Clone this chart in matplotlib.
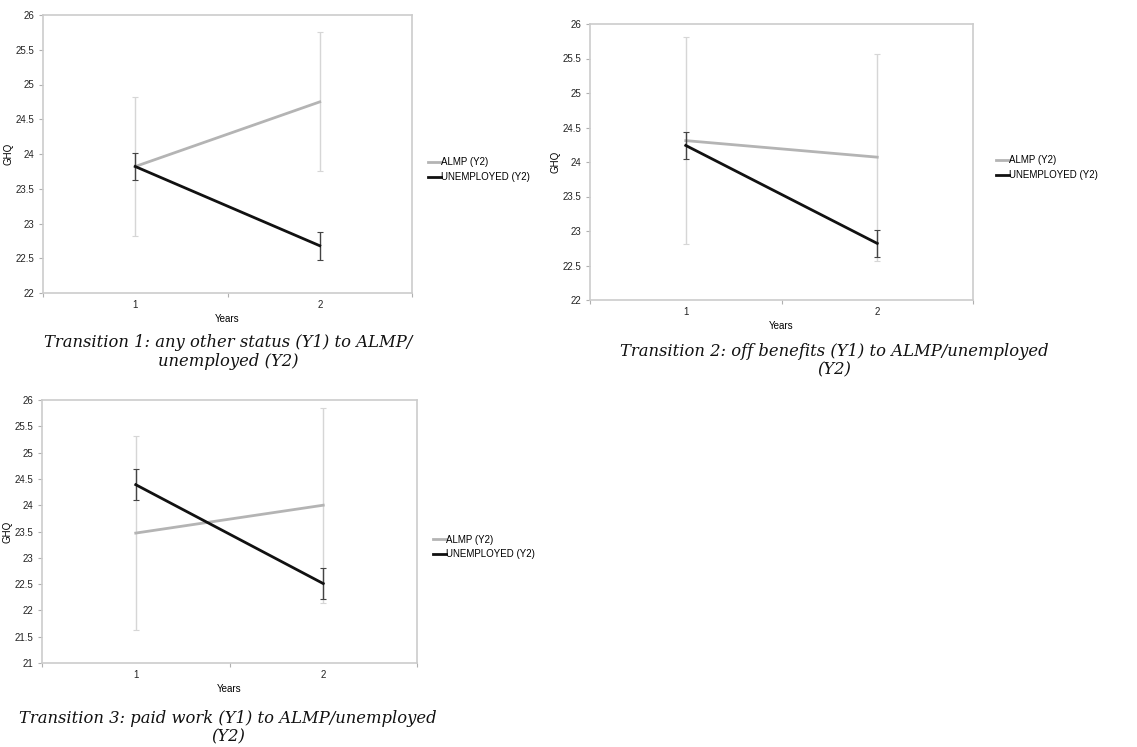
import numpy as np
import matplotlib
matplotlib.use("Agg")
import matplotlib.pyplot as plt

# data
years = [1, 2]
series = ["ALMP (Y2)", "UNEMPLOYED (Y2)"]

almp_1 = [23.82, 24.75]
almp_1_err = [1.0, 1.0]
unemp_1 = [23.82, 22.68]
unemp_1_err = [0.2, 0.2]

almp_2 = [24.31, 24.07]
almp_2_err = [1.5, 1.5]
unemp_2 = [24.24, 22.82]
unemp_2_err = [0.2, 0.2]

almp_3 = [23.47, 24.0]
almp_3_err = [1.85, 1.85]
unemp_3 = [24.39, 22.51]
unemp_3_err = [0.3, 0.3]

captions = [
    "Transition 1: any other status (Y1) to ALMP/\nunemployed (Y2)",
    "Transition 2: off benefits (Y1) to ALMP/unemployed\n(Y2)",
    "Transition 3: paid work (Y1) to ALMP/unemployed\n(Y2)",
]

plt.rcParams['font.family'] = ['Liberation Sans', 'DejaVu Sans']

W, H = 1137, 747
fig = plt.figure(figsize=(W / 100, H / 100), dpi=100)


def px_axes(l, t, r, b):
    return fig.add_axes([l / W, 1 - b / H, (r - l) / W, (b - t) / H])


def draw(ax, almp, almp_err, unemp, unemp_err, ylim, leg_xy, cap_xy, caption):
    ax.errorbar(years, almp, yerr=almp_err, color='#b4b4b4', lw=2,
                ecolor='#d6d6d6', elinewidth=1, capsize=2.5, capthick=0.8,
                label=series[0], zorder=2)
    ax.errorbar(years, unemp, yerr=unemp_err, color='#111111', lw=2,
                ecolor='#444444', elinewidth=1, capsize=2.5, capthick=0.8,
                label=series[1], zorder=3)
    ax.set_xlim(0.5, 2.5)
    ax.set_ylim(*ylim)
    yt = np.arange(ylim[0], ylim[1] + 0.01, 0.5)
    ax.set_yticks(yt)
    ax.set_yticklabels(['%g' % v for v in yt])
    ax.set_xticks([0.5, 1.5, 2.5])
    ax.set_xticklabels([])
    ax.set_xticks(years, minor=True)
    ax.set_xticklabels(['1', '2'], minor=True)
    ax.tick_params(axis='both', which='major', length=3, color='#b0b0b0', pad=3)
    ax.tick_params(axis='x', which='minor', length=0, pad=5)
    ax.tick_params(axis='both', which='both', labelsize=7, labelcolor='#222222')
    for s in ax.spines.values():
        s.set_color('#cccccc')
        s.set_linewidth(1.2)
    ax.set_xlabel('Years', fontsize=7, labelpad=3)
    ax.set_ylabel('GHQ', fontsize=7, labelpad=2)
    handles, labels = ax.get_legend_handles_labels()
    handles = [h[0] for h in handles]
    fig.legend(handles, labels, loc='center left',
               bbox_to_anchor=(leg_xy[0] / W, 1 - leg_xy[1] / H),
               frameon=False, fontsize=7, handlelength=1.3,
               handletextpad=0.1, labelspacing=0.5, borderpad=0)
    fig.text(cap_xy[0] / W, 1 - cap_xy[1] / H, caption, ha='center', va='center',
             fontsize=11.8, family='DejaVu Serif', style='italic',
             linespacing=1.1, color='#111111')


ax1 = px_axes(43, 15, 412, 293)
draw(ax1, almp_1, almp_1_err, unemp_1, unemp_1_err, (22, 26),
     (423, 169.5), (228, 352), captions[0])

ax2 = px_axes(590, 24, 973, 300)
draw(ax2, almp_2, almp_2_err, unemp_2, unemp_2_err, (22, 26),
     (991, 167.5), (834, 361), captions[1])

ax3 = px_axes(42, 400, 417, 663)
draw(ax3, almp_3, almp_3_err, unemp_3, unemp_3_err, (21, 26),
     (428, 547), (228, 728), captions[2])

fig.savefig('out.png', dpi=100)
